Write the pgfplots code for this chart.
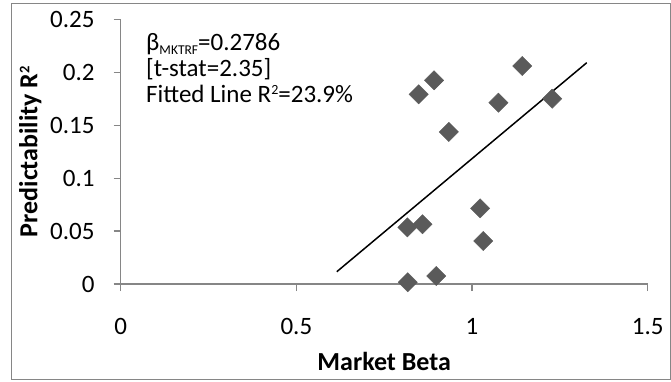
\documentclass[border=0pt]{standalone}
\usepackage{fontspec}
\setmainfont{Carlito}
\usepackage{pgfplots}
\pgfplotsset{compat=1.18}
\definecolor{axgray}{RGB}{134,134,134}
\definecolor{mkgray}{RGB}{90,90,90}
\newcommand{\supt}[2]{\raisebox{#2}{\fontsize{#1}{#1}\selectfont 2}}
\begin{document}
\begin{tikzpicture}[x=1bp,y=1bp]
\useasboundingbox (0,0) rectangle (671,381);
\draw[axgray, line width=1bp] (11,2) rectangle (670.5,377);
\begin{axis}[
  at={(120.7bp,97bp)}, anchor=south west,
  scale only axis, width=527bp, height=264.7bp,
  xmin=0, xmax=1.5, ymin=0, ymax=0.25,
  axis x line=bottom, axis y line=left,
  axis line style={-, axgray, line width=1.2bp},
  xtick={0,0.5,1,1.5}, xticklabels={0,0.5,1,1.5},
  ytick={0,0.05,0.1,0.15,0.2,0.25}, yticklabels={0,0.05,0.1,0.15,0.2,0.25},
  tick align=outside, major tick length=7bp,
  tick style={axgray, line width=1.2bp},
  ticklabel style={font=\fontsize{25bp}{25bp}\selectfont, inner sep=0pt},
  xticklabel style={anchor=north, yshift=-27bp},
  yticklabel style={anchor=east, xshift=-19bp},
  xlabel={Market Beta}, ylabel={Predictability R\supt{14.5bp}{7.8bp}},
  label style={font=\fontsize{26bp}{26bp}\selectfont\bfseries, inner sep=0pt},
  xlabel style={at={(axis description cs:0.5,-0.3249)}, anchor=base},
  ylabel style={at={(axis description cs:-0.1583,0.5)}, anchor=base},
  clip=false,
]
\addplot[only marks, mark=square*, mark size=6.8bp,
  mark options={rotate=45, fill=mkgray, draw=mkgray}] coordinates {
  (1.143,0.2059) (0.892,0.1924) (0.848,0.1792) (1.075,0.1712)
  (1.228,0.1750) (0.934,0.1436) (1.023,0.0715) (1.032,0.0406)
  (0.816,0.0535) (0.859,0.0564) (0.817,0.0016) (0.898,0.0076)
};
\addplot[black, line width=1.5bp] coordinates {(0.615,0.0116) (1.3265,0.2090)};
\node[anchor=base west, inner sep=0pt, font=\fontsize{25bp}{25bp}\selectfont]
  at (rel axis cs:0.048,0.8814) {β\raisebox{-4.3bp}{\fontsize{13.5bp}{13.5bp}\selectfont MKTRF}=0.2786};
\node[anchor=base west, inner sep=0pt, font=\fontsize{25bp}{25bp}\selectfont]
  at (rel axis cs:0.048,0.7839) {[t-stat=2.35]};
\node[anchor=base west, inner sep=0pt, font=\fontsize{25bp}{25bp}\selectfont]
  at (rel axis cs:0.048,0.6864) {Fitted Line R\supt{14bp}{7.5bp}=23.9\%};
\end{axis}
\end{tikzpicture}
\end{document}
